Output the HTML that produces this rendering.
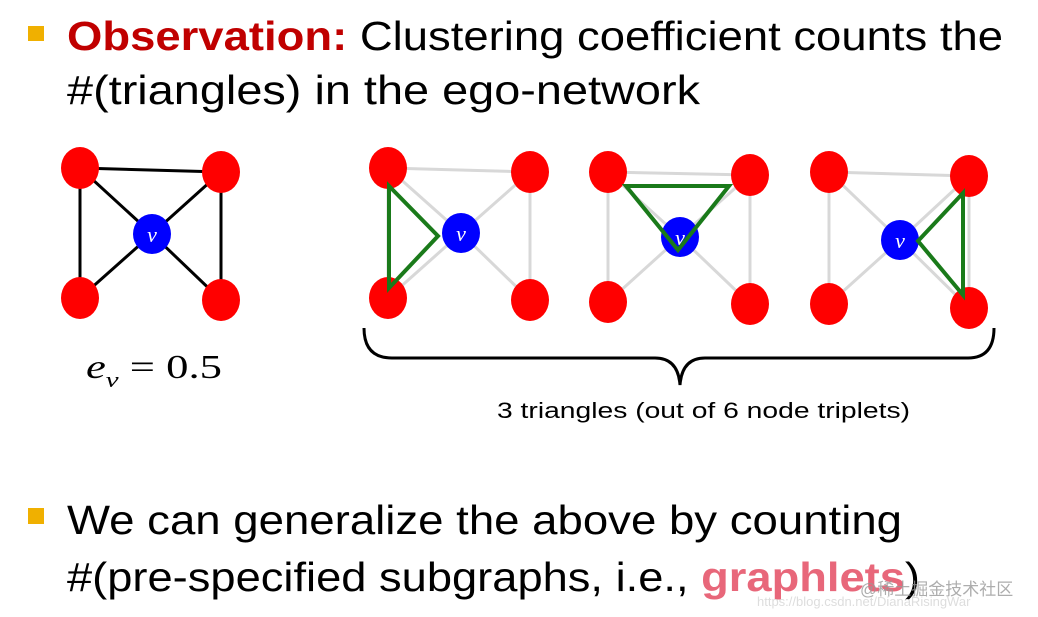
<!DOCTYPE html>
<html><head><meta charset="utf-8"><style>
html,body{margin:0;padding:0;background:#fff;}
svg{display:block;}
</style></head><body>
<svg width="1038" height="617" viewBox="0 0 1038 617" xmlns="http://www.w3.org/2000/svg" font-family="Liberation Sans, sans-serif">
<rect x="28" y="26" width="16" height="15" fill="#f0b000"/>
<text x="67" y="50" font-size="41" textLength="936" lengthAdjust="spacingAndGlyphs"><tspan fill="#c00000" font-weight="bold">Observation:</tspan> Clustering coefficient counts the</text>
<text x="67" y="104" font-size="41" textLength="633" lengthAdjust="spacingAndGlyphs">#(triangles) in the ego-network</text>

<!-- graph 1 -->
<g stroke="#000" stroke-width="3">
<line x1="80" y1="168" x2="221" y2="172"/><line x1="80" y1="168" x2="80" y2="298"/><line x1="221" y1="172" x2="221" y2="300"/>
<line x1="80" y1="168" x2="152" y2="234"/><line x1="221" y1="172" x2="152" y2="234"/><line x1="80" y1="298" x2="152" y2="234"/><line x1="221" y1="300" x2="152" y2="234"/>
</g>
<g fill="#ff0000"><ellipse cx="80" cy="168" rx="19" ry="21"/><ellipse cx="221" cy="172" rx="19" ry="21"/><ellipse cx="80" cy="298" rx="19" ry="21"/><ellipse cx="221" cy="300" rx="19" ry="21"/></g>
<ellipse cx="152" cy="234" rx="19" ry="20" fill="#0000ff"/>
<text x="152" y="242" font-size="22" fill="#fff" font-style="italic" font-family="Liberation Serif, serif" text-anchor="middle">v</text>
<text x="86" y="378" font-size="34" font-family="Liberation Serif, serif" font-style="italic" textLength="136" lengthAdjust="spacingAndGlyphs">e<tspan font-size="22" dy="9">v</tspan><tspan dy="-9" font-style="normal"> = 0.5</tspan></text>

<!-- graphs 2-4 -->
<g stroke="#d8d8d8" stroke-width="3">
<line x1="388" y1="168" x2="530" y2="172"/><line x1="388" y1="168" x2="388" y2="298"/><line x1="530" y1="172" x2="530" y2="300"/>
<line x1="388" y1="168" x2="461" y2="233"/><line x1="530" y1="172" x2="461" y2="233"/><line x1="388" y1="298" x2="461" y2="233"/><line x1="530" y1="300" x2="461" y2="233"/>
<line x1="608" y1="172" x2="750" y2="175"/><line x1="608" y1="172" x2="608" y2="302"/><line x1="750" y1="175" x2="750" y2="304"/>
<line x1="608" y1="172" x2="680" y2="237"/><line x1="750" y1="175" x2="680" y2="237"/><line x1="608" y1="302" x2="680" y2="237"/><line x1="750" y1="304" x2="680" y2="237"/>
<line x1="829" y1="172" x2="969" y2="176"/><line x1="829" y1="172" x2="829" y2="304"/><line x1="969" y1="176" x2="969" y2="308"/>
<line x1="829" y1="172" x2="900" y2="240"/><line x1="969" y1="176" x2="900" y2="240"/><line x1="829" y1="304" x2="900" y2="240"/><line x1="969" y1="308" x2="900" y2="240"/>
</g>
<g fill="#ff0000">
<ellipse cx="388" cy="168" rx="19" ry="21"/><ellipse cx="530" cy="172" rx="19" ry="21"/><ellipse cx="388" cy="298" rx="19" ry="21"/><ellipse cx="530" cy="300" rx="19" ry="21"/>
<ellipse cx="608" cy="172" rx="19" ry="21"/><ellipse cx="750" cy="175" rx="19" ry="21"/><ellipse cx="608" cy="302" rx="19" ry="21"/><ellipse cx="750" cy="304" rx="19" ry="21"/>
<ellipse cx="829" cy="172" rx="19" ry="21"/><ellipse cx="969" cy="176" rx="19" ry="21"/><ellipse cx="829" cy="304" rx="19" ry="21"/><ellipse cx="969" cy="308" rx="19" ry="21"/>
</g>
<g fill="#0000ff"><ellipse cx="461" cy="233" rx="19" ry="20"/><ellipse cx="680" cy="237" rx="19" ry="20"/><ellipse cx="900" cy="240" rx="19" ry="20"/></g>
<g font-size="22" fill="#fff" font-style="italic" font-family="Liberation Serif, serif" text-anchor="middle">
<text x="461" y="241">v</text><text x="680" y="245">v</text><text x="900" y="248">v</text></g>
<g fill="none" stroke="#1a7a1a" stroke-width="4" stroke-linejoin="miter">
<polygon points="389,186 438,236 389,288"/>
<polygon points="626,186 729,186 678,250"/>
<polygon points="918,241 963,193 963,295"/>
</g>
<path d="M364,328 Q364,358 392,358 L655,358 Q678,358 680,385 Q682,358 705,358 L968,358 Q994,358 994,328" fill="none" stroke="#000" stroke-width="3"/>
<text x="497" y="418" font-size="22" textLength="413" lengthAdjust="spacingAndGlyphs">3 triangles (out of 6 node triplets)</text>

<rect x="28" y="508" width="16" height="16" fill="#f0b000"/>
<text x="67" y="534" font-size="41" textLength="835" lengthAdjust="spacingAndGlyphs">We can generalize the above by counting</text>
<text x="67" y="591" font-size="41" textLength="853" lengthAdjust="spacingAndGlyphs">#(pre-specified subgraphs, i.e., <tspan fill="#e8677a" font-weight="bold">graphlets</tspan>)</text>
<text x="860" y="595" font-size="17" fill="#999" font-family="Liberation Sans, Noto Sans CJK SC, sans-serif" opacity="0.8">@稀土掘金技术社区</text>
<text x="757" y="606" font-size="13" fill="#ddd">https://blog.csdn.net/DianaRisingWar</text>
</svg>
</body></html>
